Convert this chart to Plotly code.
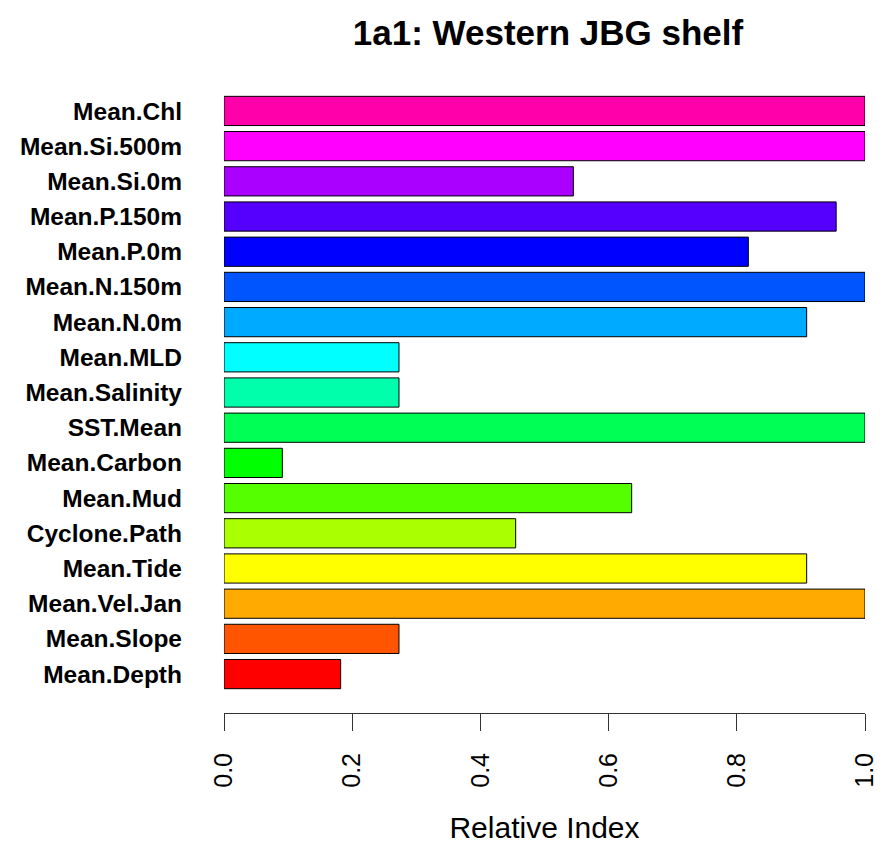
import plotly.graph_objects as go

# Data (bottom to top, as drawn by R's barplot)
variables = ["Mean.Depth", "Mean.Slope", "Mean.Vel.Jan", "Mean.Tide", "Cyclone.Path",
             "Mean.Mud", "Mean.Carbon", "SST.Mean", "Mean.Salinity", "Mean.MLD",
             "Mean.N.0m", "Mean.N.150m", "Mean.P.0m", "Mean.P.150m", "Mean.Si.0m",
             "Mean.Si.500m", "Mean.Chl"]
relative_index = [0.182, 0.273, 1.0, 0.909, 0.455,
                  0.636, 0.091, 1.0, 0.273, 0.273,
                  0.909, 1.0, 0.818, 0.955, 0.545,
                  1.0, 1.0]
x_ticks = [0.0, 0.2, 0.4, 0.6, 0.8, 1.0]

# rainbow(18)-style colours (hue steps of 20 degrees)
colors = ["#FF0000", "#FF5500", "#FFAA00", "#FFFF00", "#AAFF00", "#55FF00",
          "#00FF00", "#00FF55", "#00FFAA", "#00FFFF", "#00AAFF", "#0055FF",
          "#0000FF", "#5500FF", "#AA00FF", "#FF00FF", "#FF00AA"]

FONT = "Liberation Sans, Arial, sans-serif"

fig = go.Figure(go.Bar(
    x=relative_index,
    y=variables,
    orientation="h",
    width=0.83,
    marker=dict(color=colors, line=dict(color="black", width=1)),
    cliponaxis=False,
    hoverinfo="x+y",
))

fig.update_layout(
    width=882, height=843,
    margin=dict(l=216, r=14, t=60, b=137),
    paper_bgcolor="white", plot_bgcolor="white",
    showlegend=False,
    title=dict(text="<b>1a1: Western JBG shelf</b>",
               font=dict(family=FONT, size=35, color="black"),
               x=540/882, xref="container", xanchor="center",
               y=1 - 25/843, yref="container", yanchor="middle"),
    font=dict(family=FONT, color="black"),
)

fig.update_xaxes(
    range=[0, 1],
    tickvals=x_ticks,
    ticktext=[f"{v:.1f}" for v in x_ticks],
    tickangle=-90,
    tickfont=dict(family=FONT, size=25, color="black"),
    ticks="outside", ticklen=17, tickwidth=1, tickcolor="#333",
    ticklabelstandoff=12,
    showline=True, linecolor="#333", linewidth=1,
    showgrid=False, zeroline=False,
    title=dict(text="Relative Index", font=dict(family=FONT, size=30, color="black"),
               standoff=30),
)

fig.update_yaxes(
    type="category",
    range=[-1.106, 17.22],
    tickfont=dict(family=FONT, size=24.5, color="black", weight="bold"),
    ticks="", showline=False, showgrid=False, zeroline=False,
    ticklabelstandoff=41,
)

fig.write_html("out.html")
